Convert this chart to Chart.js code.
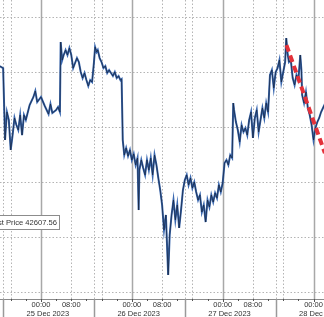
<!DOCTYPE html>
<html>
<head>
<meta charset="utf-8">
<script src="https://cdn.jsdelivr.net/npm/chart.js@4"></script>
<style>
html,body{margin:0;padding:0;background:#fff;}
#wrap{width:324px;height:317px;position:relative;}
</style>
</head>
<body>
<div id="wrap"><canvas id="c" width="324" height="317"></canvas></div>
<script>
// Hours since 24 Dec 2023 00:00
const hours = [13,14,14.5,15,15.5,16,16.5,17,17.5,18,18.5,19,19.5,20,21,22,22.5,23,24,25,26,26.5,27,28,28.5,29,29.2,29.6,30,30.5,31,31.5,32,32.5,33,33.5,34,34.5,35,35.5,36,36.5,37,37.5,38,38.3,38.7,39,39.5,40,40.5,41,41.5,42,43,43.5,44,44.5,45,45.3,45.6,46,46.5,47,47.5,48,48.5,49,49.5,49.8,50,50.5,51,51.5,52,52.5,53,53.5,54,54.5,55,55.5,56,56.5,57,57.3,57.6,58,58.5,59,59.5,60,60.5,61,61.5,62,62.5,63,63.5,64,64.5,65,65.5,66,66.5,67,67.5,68,68.5,69,69.5,70,70.5,71,71.5,72,72.5,73,73.5,74,74.5,74.8,75,75.5,76,76.5,77,77.5,78,78.5,79,79.5,80,80.5,81,81.5,82,82.5,83,83.5,84,84.5,85,85.5,86,86.5,87,87.5,88,88.5,88.8,89.2,89.5,90,90.5,91,91.5,92,92.5,92.8,93,93.5,94,94.5,95,95.5,96,96.5,97,97.5,98,98.5,99];
const prices = [43555,43536,42882,43136,43064,42791,42927,43082,43018,42973,43109,42927,43109,43064,43200,43273,43327,43227,43273,43191,43118,43209,43127,43155,43182,43136,43773,43609,43655,43700,43655,43718,43655,43536,43582,43627,43591,43500,43445,43491,43427,43373,43427,43409,43591,43727,43682,43700,43627,43591,43536,43555,43491,43518,43464,43500,43445,43464,43427,43436,42882,42745,42809,42736,42791,42700,42755,42655,42718,42245,42609,42700,42627,42564,42700,42609,42718,42564,42745,42655,42536,42427,42291,42064,42200,41927,41655,42018,42200,42336,42155,42291,42082,42245,42427,42518,42564,42473,42536,42445,42500,42409,42336,42382,42227,42291,42136,42336,42273,42382,42318,42400,42355,42473,42409,42491,42673,42700,42655,42745,42718,43218,43155,43045,42973,42864,43018,42955,42991,42927,43064,43136,42900,43082,43155,42955,43064,43173,43082,43218,43136,43473,43518,43355,43500,43536,43609,43409,43500,43591,43809,43655,43591,43609,43445,43382,43473,43427,43655,43518,43291,43218,43318,43173,43109,43018,42882,42991,43045,43082,43136,43173,43209];
const trendHours = [88.85, 99];
const trendPrices = [43745, 42763];
const gridPrices = [41500, 42000, 42500, 43000, 43500, 44000];
const timeTickHours = [24, 32, 48, 56, 72, 80, 96];
const timeTickLabels = ["00:00", "08:00", "00:00", "08:00", "00:00", "08:00", "00:00"];
const dateTickHours = [25.8, 49.8, 73.8, 97.8];
const dateTickLabels = ["25 Dec 2023", "26 Dec 2023", "27 Dec 2023", "28 Dec 2023"];
const dayStarts = [0, 24, 48, 72, 96];
const dottedOffsets = [8, 14, 16];
const separatorOffset = 14;
const legendText = "Last Price 42607.56";

const priceData = hours.map((h, i) => ({x: h, y: prices[i]}));
const trendData = trendHours.map((h, i) => ({x: h, y: trendPrices[i]}));
const allTicks = timeTickHours.map((h, i) => ({value: h, label: timeTickLabels[i]}))
  .concat(dateTickHours.map((h, i) => ({value: h, label: ["", dateTickLabels[i]]})))
  .sort((a, b) => a.value - b.value);

const gridPlugin = {
  id: 'bbgGrid',
  beforeDatasetsDraw(chart) {
    const ctx = chart.ctx, xs = chart.scales.x, ys = chart.scales.y, a = chart.chartArea;
    ctx.save();
    ctx.beginPath(); ctx.rect(a.left, a.top, a.right - a.left, a.bottom - a.top); ctx.clip();
    ctx.strokeStyle = '#b4b4b4'; ctx.lineWidth = 1; ctx.setLineDash([1.5, 2]);
    gridPrices.forEach(p => {
      const y = Math.round(ys.getPixelForValue(p)) + 0.5;
      ctx.beginPath(); ctx.moveTo(a.left, y); ctx.lineTo(a.right, y); ctx.stroke();
    });
    dayStarts.concat([-24]).forEach(d => {
      dottedOffsets.forEach(o => {
        const x = Math.round(xs.getPixelForValue(d + o)) + 0.5;
        ctx.beginPath(); ctx.moveTo(x, a.top); ctx.lineTo(x, a.bottom); ctx.stroke();
      });
    });
    ctx.setLineDash([]); ctx.strokeStyle = '#a8a8a8'; ctx.lineWidth = 1.5;
    dayStarts.forEach(d => {
      const x = Math.round(xs.getPixelForValue(d)) + 0.5;
      ctx.beginPath(); ctx.moveTo(x, a.top); ctx.lineTo(x, a.bottom); ctx.stroke();
    });
    ctx.restore();
  },
  afterDraw(chart) {
    const ctx = chart.ctx, xs = chart.scales.x, a = chart.chartArea;
    const H = chart.height;
    ctx.save();
    ctx.strokeStyle = '#8a8a8a'; ctx.lineWidth = 1;
    ctx.beginPath(); ctx.moveTo(a.left, a.bottom + 0.5); ctx.lineTo(a.right, a.bottom + 0.5); ctx.stroke();
    ctx.strokeStyle = '#555';
    for (let h = -24; h <= 120; h += 4) {
      const x = Math.round(xs.getPixelForValue(h)) + 0.5;
      ctx.beginPath(); ctx.moveTo(x, a.bottom); ctx.lineTo(x, a.bottom + (h % 24 === 0 ? 3 : 2)); ctx.stroke();
    }
    ctx.strokeStyle = '#9a9a9a'; ctx.lineWidth = 1.5;
    dayStarts.concat([-24]).forEach(d => {
      const x = Math.round(xs.getPixelForValue(d + separatorOffset)) + 0.5;
      ctx.beginPath(); ctx.moveTo(x, a.bottom); ctx.lineTo(x, H); ctx.stroke();
    });
    ctx.font = '7.6px "Liberation Sans", Arial, sans-serif';
    const tw = ctx.measureText(legendText).width;
    const right = 60, top = 215, bottom = 230;
    const left = right - tw - 6;
    ctx.fillStyle = '#fff'; ctx.fillRect(left, top, right - left, bottom - top);
    ctx.strokeStyle = '#8c8c8c'; ctx.lineWidth = 1;
    ctx.strokeRect(left + 0.5, top + 0.5, right - left - 1, bottom - top - 1);
    ctx.fillStyle = '#333'; ctx.textBaseline = 'middle'; ctx.textAlign = 'right';
    ctx.fillText(legendText, right - 3, (top + bottom) / 2 + 0.5);
    ctx.restore();
  }
};

new Chart(document.getElementById('c'), {
  type: 'line',
  data: {
    datasets: [
      {label: 'Last Price', data: priceData, borderColor: '#3a68b0', borderWidth: 2.0, pointRadius: 0, tension: 0, order: 3},
      {label: 'Last Price core', data: priceData, borderColor: '#16223a', borderWidth: 0.7, pointRadius: 0, tension: 0, order: 2},
      {label: 'Trend', data: trendData, borderColor: '#e3313a', borderWidth: 4, borderDash: [7, 4], pointRadius: 0, order: 1}
    ]
  },
  options: {
    responsive: false,
    animation: false,
    layout: {padding: 0},
    plugins: {legend: {display: false}, tooltip: {enabled: false}},
    scales: {
      x: {
        type: 'linear', min: 13.17, max: 98.77,
        grid: {display: false, drawTicks: false}, border: {display: false},
        afterBuildTicks: s => { s.ticks = allTicks.map(t => ({value: t.value})); },
        afterFit: s => { s.height = 18; s.paddingLeft = 0; s.paddingRight = 0; },
        ticks: {
          autoSkip: false, maxRotation: 0, minRotation: 0, padding: 1,
          color: '#333',
          font: {family: '"Liberation Sans", Arial, sans-serif', size: 7.5, lineHeight: 1.2},
          callback: (v, i) => allTicks[i].label
        }
      },
      y: {
        display: false, min: 41436, max: 44155
      }
    }
  },
  plugins: [gridPlugin]
});
</script>
</body>
</html>
